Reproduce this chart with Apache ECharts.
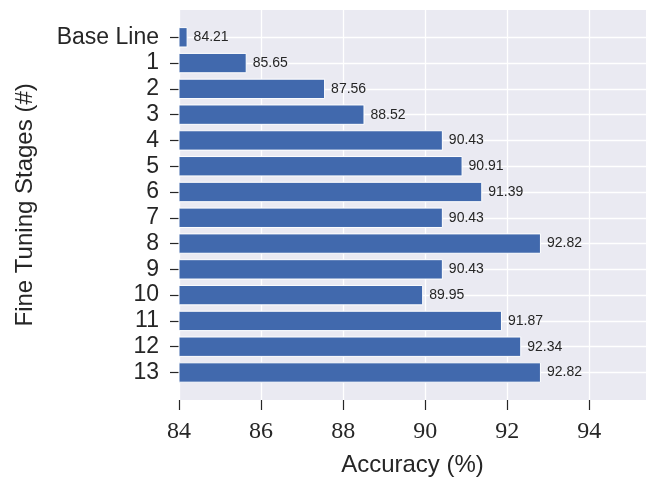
<!DOCTYPE html>
<html>
<head>
<meta charset="utf-8">
<script src="https://cdn.jsdelivr.net/npm/echarts@6/dist/echarts.min.js"></script>
<style>
  html, body { margin: 0; padding: 0; background: #ffffff; overflow: hidden; }
  #chart { width: 646px; height: 486px; }
</style>
</head>
<body>
<div id="chart"></div>
<script>
// Fine-tuning stages and the accuracy reached at each one
const stages = ['Base Line', '1', '2', '3', '4', '5', '6', '7', '8', '9', '10', '11', '12', '13'];
const accuracy = [84.21, 85.65, 87.56, 88.52, 90.43, 90.91, 91.39, 90.43, 92.82, 90.43, 89.95, 91.87, 92.34, 92.82];
const xTickValues = [84, 86, 88, 90, 92, 94];
const xRange = { min: 84, max: 95.38 };

const ink = '#262626';
const sans = '"Liberation Sans", "DejaVu Sans", sans-serif';
const serif = '"Liberation Serif", "DejaVu Serif", serif';

const chart = echarts.init(document.getElementById('chart'), null, { renderer: 'canvas' });

chart.setOption({
  animation: false,
  backgroundColor: '#ffffff',
  grid: [
    // shaded plotting panel with the vertical grid lines and the accuracy scale
    { left: 179, right: 0, top: 10, bottom: 86, show: true, backgroundColor: '#eaeaf2', borderWidth: 0 },
    // band in which the stage bars sit
    { left: 179, right: 0, top: 37.3, bottom: 113.5, show: false }
  ],
  xAxis: [
    {
      gridIndex: 0,
      type: 'value',
      min: xRange.min,
      max: xRange.max,
      axisLine: { show: false },
      axisTick: { show: true, inside: false, length: 10, customValues: xTickValues, lineStyle: { color: ink, width: 1.2 } },
      axisLabel: {
        margin: 20,
        fontFamily: serif,
        fontSize: 24,
        color: ink,
        customValues: xTickValues
      },
      splitLine: { show: true, lineStyle: { color: '#ffffff', width: 1.3 } },
      name: 'Accuracy (%)',
      nameLocation: 'middle',
      nameGap: 53,
      nameTextStyle: { fontFamily: sans, fontSize: 24, color: ink }
    },
    {
      gridIndex: 1,
      type: 'value',
      min: xRange.min,
      max: xRange.max,
      show: false
    }
  ],
  yAxis: [
    { gridIndex: 0, type: 'value', show: false, splitLine: { show: false } },
    {
      gridIndex: 1,
      type: 'category',
      data: stages,
      inverse: true,
      boundaryGap: false,
      axisLine: { show: false },
      axisTick: { show: true, inside: false, length: 9, alignWithLabel: true, lineStyle: { color: ink, width: 1.2 } },
      axisLabel: { margin: 20, fontFamily: sans, fontSize: 23, color: ink, interval: 0 },
      splitLine: { show: true, interval: 0, lineStyle: { color: '#ffffff', width: 1.3 } },
      name: 'Fine Tuning Stages (#)',
      nameLocation: 'middle',
      nameGap: 142,
      nameTextStyle: { fontFamily: sans, fontSize: 24, color: ink }
    }
  ],
  series: [
    {
      type: 'bar',
      xAxisIndex: 1,
      yAxisIndex: 1,
      data: accuracy,
      barWidth: '79%',
      itemStyle: { color: '#4169ad', borderColor: '#ffffff', borderWidth: 1 },
      label: {
        show: true,
        position: 'right',
        distance: 6,
        fontFamily: sans,
        fontSize: 14,
        color: ink,
        formatter: p => p.value.toFixed(2)
      }
    }
  ]
});
</script>
</body>
</html>
